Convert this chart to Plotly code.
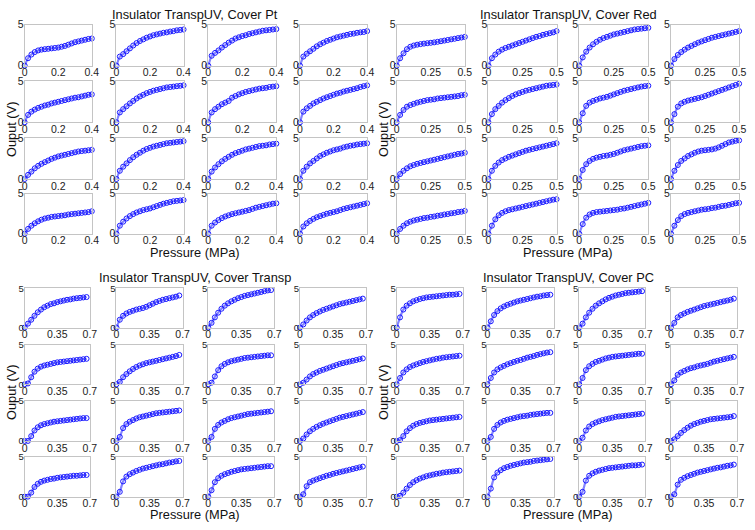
import plotly.graph_objects as go

# ---------------- data ----------------
X_PT = [0, 0.02, 0.04, 0.06, 0.08, 0.10, 0.12, 0.14, 0.16, 0.18, 0.20,
        0.22, 0.24, 0.26, 0.28, 0.30, 0.32, 0.34, 0.36, 0.38, 0.40]
X_RED = [0, 0.025, 0.05, 0.075, 0.10, 0.125, 0.15, 0.175, 0.20, 0.225, 0.25,
         0.275, 0.30, 0.325, 0.35, 0.375, 0.40, 0.425, 0.45, 0.475, 0.50]
X_TR = [0, 0.035, 0.07, 0.105, 0.14, 0.175, 0.21, 0.245, 0.28, 0.315,
        0.35, 0.385, 0.42, 0.455, 0.49, 0.525, 0.56, 0.595, 0.63, 0.665]
X_PC = X_TR

PT = [
    [0, 0.9, 1.35, 1.65, 1.85, 1.95, 2.0, 2.05, 2.1, 2.15, 2.2, 2.3, 2.4, 2.55, 2.7, 2.85, 2.95, 3.05, 3.15, 3.25, 3.3],
    [0, 1.1, 1.4, 1.75, 2.1, 2.45, 2.75, 3.0, 3.2, 3.4, 3.55, 3.7, 3.8, 3.9, 4.0, 4.05, 4.15, 4.2, 4.3, 4.35, 4.4],
    [0, 1.2, 1.55, 1.85, 2.2, 2.5, 2.8, 3.05, 3.3, 3.45, 3.6, 3.7, 3.85, 3.95, 4.05, 4.15, 4.25, 4.3, 4.35, 4.4, 4.45],
    [0, 1.1, 1.45, 1.75, 2.05, 2.35, 2.6, 2.8, 3.0, 3.15, 3.3, 3.45, 3.55, 3.65, 3.75, 3.85, 3.9, 4.0, 4.05, 4.1, 4.2],
    [0, 0.9, 1.3, 1.55, 1.75, 1.9, 2.05, 2.15, 2.3, 2.4, 2.5, 2.6, 2.7, 2.8, 2.9, 3.0, 3.05, 3.15, 3.25, 3.35, 3.4],
    [0, 1.2, 1.6, 1.95, 2.3, 2.6, 2.9, 3.15, 3.35, 3.55, 3.7, 3.85, 3.95, 4.05, 4.15, 4.25, 4.3, 4.35, 4.4, 4.45, 4.5],
    [0, 1.2, 1.6, 1.9, 2.2, 2.4, 2.6, 3.0, 3.2, 3.4, 3.55, 3.7, 3.8, 3.9, 4.0, 4.1, 4.15, 4.2, 4.3, 4.35, 4.4],
    [0, 1.3, 1.7, 2.0, 2.3, 2.5, 2.7, 2.9, 3.05, 3.2, 3.35, 3.5, 3.6, 3.75, 3.85, 3.95, 4.05, 4.15, 4.3, 4.4, 4.5],
    [0, 0.5, 0.9, 1.3, 1.6, 1.85, 2.05, 2.25, 2.45, 2.6, 2.75, 2.85, 2.95, 3.05, 3.15, 3.25, 3.35, 3.4, 3.45, 3.5, 3.55],
    [0, 1.0, 1.5, 1.9, 2.3, 2.65, 2.95, 3.2, 3.45, 3.65, 3.8, 3.95, 4.05, 4.15, 4.25, 4.35, 4.4, 4.45, 4.5, 4.55, 4.6],
    [0, 0.9, 1.4, 1.8, 2.15, 2.45, 2.7, 2.95, 3.15, 3.3, 3.45, 3.6, 3.7, 3.8, 3.9, 4.0, 4.05, 4.1, 4.2, 4.25, 4.3],
    [0, 1.0, 1.5, 1.9, 2.2, 2.5, 2.8, 3.0, 3.2, 3.35, 3.5, 3.6, 3.7, 3.85, 3.95, 4.05, 4.1, 4.2, 4.25, 4.3, 4.35],
    [0, 0.6, 1.0, 1.3, 1.55, 1.75, 1.9, 2.0, 2.1, 2.15, 2.2, 2.25, 2.3, 2.4, 2.45, 2.5, 2.55, 2.6, 2.65, 2.7, 2.8],
    [0, 1.0, 1.5, 1.9, 2.2, 2.45, 2.65, 2.8, 2.95, 3.05, 3.15, 3.3, 3.45, 3.6, 3.75, 3.85, 3.95, 4.05, 4.1, 4.15, 4.2],
    [0, 1.0, 1.4, 1.7, 1.95, 2.15, 2.3, 2.45, 2.55, 2.65, 2.75, 2.85, 2.95, 3.1, 3.25, 3.35, 3.45, 3.55, 3.65, 3.75, 3.8],
    [0, 0.9, 1.3, 1.6, 1.85, 2.05, 2.2, 2.35, 2.5, 2.6, 2.7, 2.8, 2.95, 3.1, 3.2, 3.3, 3.4, 3.5, 3.6, 3.7, 3.8],
]

RED = [
    [0, 0.9, 1.5, 2.0, 2.3, 2.45, 2.55, 2.62, 2.68, 2.73, 2.78, 2.83, 2.9, 2.97, 3.05, 3.12, 3.2, 3.27, 3.35, 3.42, 3.5],
    [0, 0.9, 1.35, 1.7, 1.95, 2.15, 2.3, 2.45, 2.6, 2.75, 2.9, 3.05, 3.2, 3.35, 3.5, 3.6, 3.75, 3.85, 3.95, 4.05, 4.2],
    [0, 1.0, 1.7, 2.2, 2.6, 2.9, 3.15, 3.35, 3.5, 3.65, 3.8, 3.9, 4.0, 4.1, 4.2, 4.3, 4.4, 4.45, 4.5, 4.55, 4.6],
    [0, 0.8, 1.3, 1.65, 1.95, 2.2, 2.4, 2.6, 2.8, 2.95, 3.1, 3.25, 3.4, 3.5, 3.6, 3.7, 3.8, 3.9, 4.0, 4.1, 4.2],
    [0, 0.9, 1.5, 1.9, 2.1, 2.25, 2.4, 2.5, 2.6, 2.7, 2.75, 2.8, 2.9, 2.95, 3.0, 3.05, 3.1, 3.15, 3.2, 3.3, 3.35],
    [0, 1.0, 1.6, 2.0, 2.4, 2.7, 2.95, 3.2, 3.4, 3.55, 3.7, 3.85, 3.95, 4.05, 4.15, 4.25, 4.35, 4.45, 4.5, 4.55, 4.6],
    [0, 1.1, 2.0, 2.4, 2.6, 2.75, 2.9, 3.0, 3.1, 3.25, 3.4, 3.55, 3.7, 3.85, 3.95, 4.05, 4.15, 4.25, 4.35, 4.4, 4.45],
    [0, 1.0, 1.9, 2.3, 2.5, 2.65, 2.75, 2.85, 2.95, 3.05, 3.2, 3.35, 3.5, 3.65, 3.8, 3.95, 4.1, 4.25, 4.4, 4.55, 4.7],
    [0, 0.6, 1.0, 1.3, 1.55, 1.7, 1.85, 1.95, 2.05, 2.15, 2.25, 2.35, 2.45, 2.55, 2.65, 2.75, 2.85, 2.95, 3.05, 3.1, 3.2],
    [0, 1.0, 1.6, 2.0, 2.3, 2.5, 2.7, 2.85, 3.0, 3.15, 3.3, 3.45, 3.55, 3.65, 3.75, 3.85, 3.95, 4.05, 4.15, 4.25, 4.35],
    [0, 1.1, 1.8, 2.2, 2.45, 2.6, 2.7, 2.8, 2.85, 2.95, 3.05, 3.2, 3.35, 3.5, 3.6, 3.7, 3.8, 3.9, 4.0, 4.05, 4.1],
    [0, 1.0, 1.7, 2.2, 2.5, 2.8, 3.0, 3.2, 3.35, 3.45, 3.5, 3.55, 3.6, 3.7, 3.85, 4.05, 4.25, 4.45, 4.55, 4.65, 4.7],
    [0, 0.6, 1.0, 1.3, 1.5, 1.65, 1.75, 1.85, 1.95, 2.0, 2.1, 2.15, 2.25, 2.3, 2.4, 2.45, 2.55, 2.6, 2.7, 2.75, 2.85],
    [0, 1.0, 1.8, 2.3, 2.6, 2.8, 2.95, 3.05, 3.15, 3.25, 3.35, 3.45, 3.55, 3.65, 3.75, 3.85, 3.95, 4.05, 4.15, 4.25, 4.3],
    [0, 1.2, 2.0, 2.4, 2.6, 2.7, 2.75, 2.8, 2.85, 2.9, 2.95, 3.0, 3.1, 3.15, 3.25, 3.35, 3.45, 3.55, 3.65, 3.75, 3.85],
    [0, 1.0, 1.7, 2.2, 2.45, 2.6, 2.7, 2.8, 2.9, 3.0, 3.05, 3.1, 3.2, 3.25, 3.35, 3.45, 3.5, 3.6, 3.7, 3.8, 3.85],
]

TRANSP = [
    [0, 0.5, 1.0, 1.5, 1.95, 2.3, 2.6, 2.8, 3.0, 3.1, 3.25, 3.35, 3.45, 3.55, 3.6, 3.7, 3.75, 3.8, 3.85, 3.9],
    [0, 1.0, 1.5, 1.8, 2.0, 2.15, 2.3, 2.4, 2.5, 2.65, 2.85, 3.05, 3.25, 3.4, 3.55, 3.65, 3.75, 3.85, 3.95, 4.1],
    [0, 0.6, 1.3, 1.9, 2.4, 2.8, 3.1, 3.35, 3.55, 3.75, 3.9, 4.05, 4.15, 4.25, 4.35, 4.45, 4.55, 4.65, 4.75, 4.8],
    [0, 0.4, 0.9, 1.3, 1.6, 1.85, 2.05, 2.25, 2.4, 2.55, 2.7, 2.85, 3.0, 3.1, 3.2, 3.3, 3.4, 3.5, 3.6, 3.7],
    [0, 0.1, 0.9, 1.6, 2.0, 2.25, 2.4, 2.5, 2.6, 2.7, 2.8, 2.85, 2.9, 2.95, 3.0, 3.05, 3.1, 3.15, 3.2, 3.25],
    [0, 0.3, 0.9, 1.3, 1.65, 1.95, 2.2, 2.4, 2.55, 2.7, 2.8, 2.9, 3.0, 3.1, 3.2, 3.3, 3.4, 3.5, 3.6, 3.75],
    [0, 0.2, 1.0, 1.8, 2.3, 2.6, 2.8, 2.95, 3.05, 3.15, 3.25, 3.35, 3.4, 3.45, 3.5, 3.55, 3.6, 3.65, 3.7, 3.7],
    [0, 0.2, 0.6, 1.0, 1.3, 1.5, 1.7, 1.85, 2.0, 2.15, 2.3, 2.45, 2.6, 2.7, 2.8, 2.9, 3.0, 3.1, 3.2, 3.3],
    [0, 0.0, 0.6, 1.3, 1.7, 1.95, 2.1, 2.2, 2.3, 2.4, 2.45, 2.5, 2.55, 2.6, 2.65, 2.7, 2.75, 2.8, 2.85, 2.85],
    [0, 0.5, 1.6, 2.1, 2.4, 2.6, 2.8, 2.95, 3.05, 3.15, 3.25, 3.35, 3.45, 3.5, 3.55, 3.6, 3.65, 3.7, 3.75, 3.8],
    [0, 0.5, 1.5, 2.0, 2.3, 2.5, 2.7, 2.85, 2.95, 3.05, 3.15, 3.25, 3.35, 3.4, 3.45, 3.5, 3.55, 3.6, 3.65, 3.7],
    [0, 0.3, 0.8, 1.2, 1.5, 1.75, 1.95, 2.15, 2.3, 2.45, 2.6, 2.75, 2.9, 3.0, 3.1, 3.2, 3.3, 3.4, 3.5, 3.6],
    [0, 0.0, 0.5, 1.2, 1.6, 1.85, 2.0, 2.1, 2.2, 2.25, 2.35, 2.4, 2.45, 2.5, 2.55, 2.6, 2.6, 2.65, 2.7, 2.7],
    [0, 0.6, 1.9, 2.5, 2.8, 3.0, 3.2, 3.35, 3.5, 3.6, 3.7, 3.8, 3.9, 4.0, 4.05, 4.15, 4.25, 4.3, 4.4, 4.45],
    [0, 0.8, 1.8, 2.3, 2.6, 2.8, 2.95, 3.1, 3.2, 3.3, 3.4, 3.45, 3.5, 3.55, 3.6, 3.65, 3.7, 3.75, 3.8, 3.8],
    [0, 0.3, 1.3, 1.8, 2.0, 2.15, 2.3, 2.45, 2.6, 2.7, 2.85, 2.95, 3.05, 3.15, 3.25, 3.35, 3.45, 3.55, 3.65, 3.75],
]

PC = [
    [0, 1.3, 2.3, 2.8, 3.1, 3.35, 3.5, 3.65, 3.75, 3.85, 3.9, 3.95, 4.0, 4.05, 4.1, 4.15, 4.2, 4.2, 4.25, 4.3],
    [0, 0.8, 1.6, 2.1, 2.45, 2.7, 2.9, 3.05, 3.2, 3.35, 3.45, 3.55, 3.65, 3.75, 3.85, 3.95, 4.0, 4.1, 4.15, 4.2],
    [0, 0.5, 1.3, 1.9, 2.4, 2.8, 3.1, 3.35, 3.6, 3.8, 3.95, 4.1, 4.2, 4.3, 4.4, 4.45, 4.5, 4.55, 4.6, 4.65],
    [0, 0.6, 1.3, 1.6, 1.8, 2.0, 2.15, 2.3, 2.45, 2.6, 2.75, 2.85, 2.95, 3.05, 3.15, 3.25, 3.35, 3.45, 3.55, 3.7],
    [0, 0.8, 1.5, 1.9, 2.2, 2.4, 2.55, 2.7, 2.85, 2.95, 3.05, 3.15, 3.25, 3.3, 3.4, 3.45, 3.5, 3.55, 3.6, 3.65],
    [0, 0.8, 1.5, 1.9, 2.15, 2.35, 2.55, 2.7, 2.85, 3.0, 3.1, 3.25, 3.4, 3.5, 3.6, 3.75, 3.85, 3.95, 4.05, 4.1],
    [0, 0.8, 1.8, 2.3, 2.6, 2.85, 3.0, 3.15, 3.3, 3.4, 3.5, 3.55, 3.6, 3.65, 3.7, 3.75, 3.8, 3.85, 3.9, 3.9],
    [0, 0.5, 1.2, 1.5, 1.7, 1.9, 2.05, 2.15, 2.3, 2.4, 2.5, 2.6, 2.75, 2.9, 3.0, 3.1, 3.2, 3.3, 3.4, 3.5],
    [0, 0.1, 0.6, 1.2, 1.6, 1.9, 2.1, 2.25, 2.35, 2.45, 2.55, 2.6, 2.65, 2.7, 2.75, 2.8, 2.85, 2.9, 2.95, 3.0],
    [0, 0.5, 1.5, 2.0, 2.3, 2.5, 2.65, 2.75, 2.85, 2.95, 3.05, 3.1, 3.15, 3.25, 3.3, 3.35, 3.4, 3.45, 3.5, 3.5],
    [0, 0.4, 1.3, 1.8, 2.1, 2.3, 2.45, 2.6, 2.7, 2.8, 2.9, 3.0, 3.05, 3.1, 3.15, 3.2, 3.25, 3.3, 3.35, 3.4],
    [0, 0.2, 0.6, 1.0, 1.35, 1.65, 1.9, 2.1, 2.25, 2.4, 2.5, 2.6, 2.7, 2.75, 2.8, 2.85, 2.9, 2.95, 3.0, 3.1],
    [0, 0.1, 0.5, 1.0, 1.45, 1.8, 2.05, 2.25, 2.4, 2.55, 2.65, 2.75, 2.85, 2.9, 3.0, 3.05, 3.1, 3.15, 3.2, 3.25],
    [0, 1.0, 2.4, 3.0, 3.3, 3.55, 3.7, 3.85, 3.95, 4.05, 4.15, 4.25, 4.3, 4.35, 4.45, 4.5, 4.55, 4.6, 4.65, 4.7],
    [0, 0.6, 2.0, 2.6, 2.9, 3.1, 3.25, 3.35, 3.45, 3.55, 3.6, 3.65, 3.7, 3.75, 3.8, 3.85, 3.9, 3.9, 3.95, 4.0],
    [0, 0.3, 1.5, 2.1, 2.35, 2.55, 2.7, 2.85, 3.0, 3.1, 3.2, 3.3, 3.4, 3.5, 3.6, 3.65, 3.75, 3.85, 3.9, 4.0],
]

TITLES = ["Insulator TranspUV, Cover Pt", "Insulator TranspUV, Cover Red",
          "Insulator TranspUV, Cover Transp", "Insulator TranspUV, Cover PC"]
X_TICKS_PT = [0, 0.2, 0.4]
X_TICKS_RED = [0, 0.25, 0.5]
X_TICKS_TR = [0, 0.35, 0.7]
Y_TICKS = [0, 5]

# ---------------- layout geometry (pixels) ----------------
W, H = 755, 530
COLS_TOP = [[(22, 90), (115, 183), (208, 277), (301, 369)],
            [(399, 468), (492, 561), (584, 654), (677, 746)]]
ROWS_TOP = [(19, 61), (77, 119), (135, 177), (192, 233)]
COLS_BOT = [[(22, 88), (115, 182), (208, 275), (301, 368)],
            [(399, 466), (491, 558), (584, 651), (677, 744)]]
ROWS_BOT = [(289, 329), (347, 387), (404, 445), (461, 502)]

groups = [
    (PT, X_PT, X_TICKS_PT, ["0", "0.2", "0.4"], [0, 0.4], COLS_TOP[0], ROWS_TOP, 10.5),
    (RED, X_RED, X_TICKS_RED, ["0", "0.25", "0.5"], [0, 0.5], COLS_TOP[1], ROWS_TOP, 10.5),
    (TRANSP, X_TR, X_TICKS_TR, ["0", "0.35", "0.7"], [0, 0.7], COLS_BOT[0], ROWS_BOT, 9.5),
    (PC, X_PC, X_TICKS_TR, ["0", "0.35", "0.7"], [0, 0.7], COLS_BOT[1], ROWS_BOT, 9.5),
]

FONT = "Liberation Sans, Arial, sans-serif"
BLUE = "rgb(25,25,255)"
fig = go.Figure()
layout = {}
n = 0
for gi, (data, xs, xt, xtt, xr, cols, rows, yfs) in enumerate(groups):
    for k, ys in enumerate(data):
        r, c = divmod(k, 4)
        n += 1
        sfx = "" if n == 1 else str(n)
        fig.add_trace(go.Scatter(
            x=xs, y=ys, mode="lines+markers", xaxis="x" + sfx, yaxis="y" + sfx,
            cliponaxis=False, showlegend=False,
            line=dict(color="rgba(100,100,255,0.8)", width=2.2, shape="spline", smoothing=0.6),
            marker=dict(symbol="circle-open", size=5, color=BLUE,
                        line=dict(width=1, color=BLUE)),
        ))
        x0, x1 = cols[c]
        y0, y1 = rows[r]
        common = dict(showline=True, mirror=True, linecolor="#c4c4c4", linewidth=1,
                      showgrid=False, zeroline=False, ticks="")
        layout["xaxis" + sfx] = dict(common, domain=[x0 / W, x1 / W], range=xr,
                                     tickvals=xt, ticktext=xtt, anchor="y" + sfx,
                                     ticklabelstandoff=-3,
                                     tickfont=dict(family=FONT, size=10.5, color="#222"))
        layout["yaxis" + sfx] = dict(common, domain=[1 - y1 / H, 1 - y0 / H], range=[0, 5],
                                     tickvals=Y_TICKS, anchor="x" + sfx,
                                     ticklabelstandoff=-2,
                                     tickfont=dict(family=FONT, size=yfs, color="#222"))

annotations = []
title_pos = [(195, 8.5), (573, 8.5), (195, 278), (573, 278)]
for t, (px, py) in zip(TITLES, title_pos):
    annotations.append(dict(text=t, x=px / W, y=1 - py / H, xref="paper", yref="paper",
                            showarrow=False, xanchor="center", yanchor="middle",
                            font=dict(family=FONT, size=12.8, color="#111")))
for px, py in [(195, 252), (573, 252), (195, 520), (573, 520)]:
    annotations.append(dict(text="Pressure (MPa)", x=px / W, y=1 - py / H, xref="paper",
                            yref="paper", showarrow=False, xanchor="center", yanchor="middle",
                            font=dict(family=FONT, size=12.8, color="#111")))
for px, py in [(8, 126), (385, 126), (8, 395), (385, 395)]:
    annotations.append(dict(text="Ouput (V)", x=px / W, y=1 - py / H, xref="paper",
                            yref="paper", showarrow=False, xanchor="center", yanchor="middle",
                            textangle=-90, font=dict(family=FONT, size=12.8, color="#111")))

fig.update_layout(width=W, height=H, margin=dict(l=0, r=0, t=0, b=0),
                  plot_bgcolor="white", paper_bgcolor="white",
                  annotations=annotations, **layout)
fig.write_html("out.html", config={"displayModeBar": False},
               post_script="document.body.style.margin='0';document.body.style.padding='0';")
